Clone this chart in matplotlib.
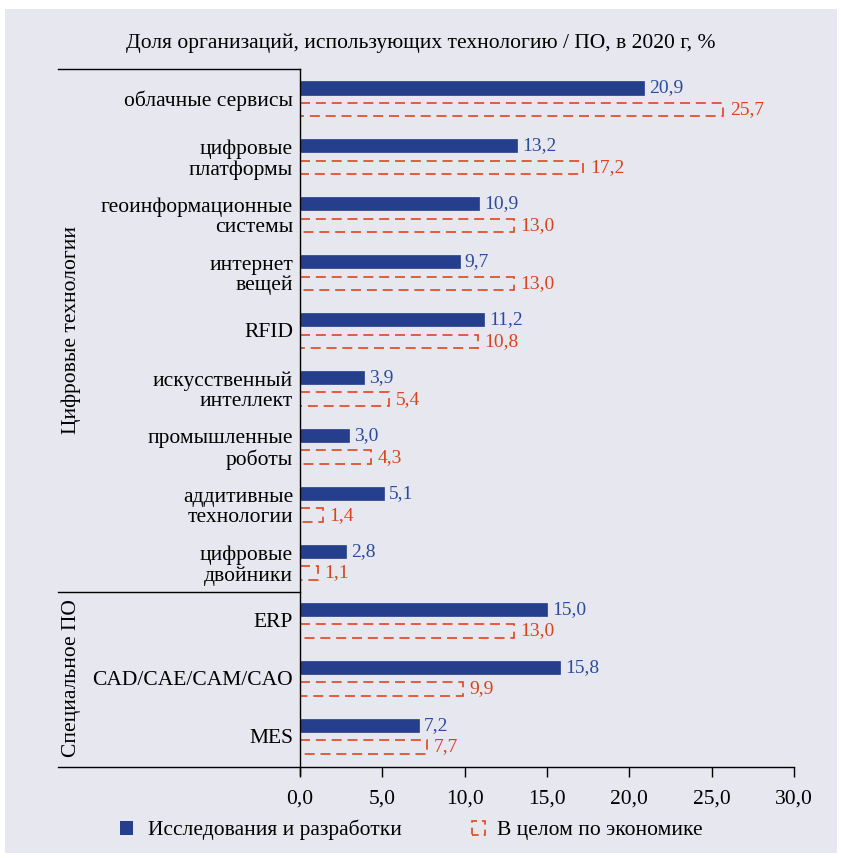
import matplotlib
matplotlib.use("Agg")
import matplotlib.pyplot as plt
from matplotlib.lines import Line2D
from matplotlib.patches import Rectangle
import numpy as np

plt.rcParams["font.family"] = ["Liberation Serif", "DejaVu Serif"]

categories = [
    "облачные сервисы", "цифровые\nплатформы", "геоинформационные\nсистемы",
    "интернет\nвещей", "RFID", "искусственный\nинтеллект",
    "промышленные\nроботы", "аддитивные\nтехнологии", "цифровые\nдвойники",
    "ERP", "CAD/CAE/CAM/CAO", "MES",
]
research = [20.9, 13.2, 10.9, 9.7, 11.2, 3.9, 3.0, 5.1, 2.8, 15.0, 15.8, 7.2]
economy = [25.7, 17.2, 13.0, 13.0, 10.8, 5.4, 4.3, 1.4, 1.1, 13.0, 9.9, 7.7]
groups = [("Цифровые технологии", 0, 8), ("Специальное ПО", 9, 11)]
xticks = [0, 5, 10, 15, 20, 25, 30]

BG = "#e6e7ef"
BLUE = "#263f8c"
BLUE_TXT = "#2d4b9c"
RED = "#e0461e"
RED_TXT = "#d9441c"
FS = 15.5

W, H = 842, 858
fig = plt.figure(figsize=(W / 100, H / 100), dpi=100)
fig.patch.set_facecolor("white")
fig.add_artist(Rectangle((5 / W, 5 / H), 832 / W, 844 / H, transform=fig.transFigure,
                         facecolor=BG, edgecolor="none", zorder=0))

ax = fig.add_axes([300 / W, 1 - 767 / H, 494 / W, 698 / H])
ax.set_facecolor("none")

y = np.arange(len(categories))
bh = 0.23
off = 0.185
ax.barh(y - off, research, height=bh, color=BLUE, edgecolor=BLUE, linewidth=0.5)
ax.barh(y + off, economy, height=bh, fill=False, edgecolor=RED,
        linestyle=(0, (6, 3.5)), linewidth=1.2)

for yi, v in zip(y, research):
    ax.text(v + 0.3, yi - off, f"{v:.1f}".replace(".", ","), va="center", ha="left",
            color=BLUE_TXT, fontsize=14)
for yi, v in zip(y, economy):
    ax.text(v + 0.4, yi + off, f"{v:.1f}".replace(".", ","), va="center", ha="left",
            color=RED_TXT, fontsize=14)

ax.set_xlim(0, 30)
ax.set_ylim(11.53, -0.51)
ax.set_xticks(xticks)
ax.set_xticklabels([f"{t:.1f}".replace(".", ",") for t in xticks], fontsize=FS)
ax.set_yticks(y)
ax.set_yticklabels(categories, fontsize=FS, linespacing=1.08)
ax.tick_params(axis="y", length=0, pad=5)
ax.tick_params(axis="x", direction="out", length=7, width=1, pad=9)
for s in ("top", "right"):
    ax.spines[s].set_visible(False)
ax.spines["left"].set_linewidth(1)
ax.spines["bottom"].set_linewidth(1)
ax.spines["left"].set_bounds(11.53 + 0.13, -0.51)

# horizontal rules on the left label panel
xl = 58 / W
xr = 300 / W
for yy in (69, 592, 767):
    fig.add_artist(Line2D([xl, xr], [1 - yy / H, 1 - yy / H], color="black", lw=1))

for name, a, b in groups:
    yc = (a + b) / 2
    ax.text(-229 / 494 * 30, yc, name, rotation=90, ha="center", va="center",
            fontsize=FS)

fig.text(0.5, 1 - 43 / H, "Доля организаций, использующих технологию / ПО, в 2020 г, %",
         ha="center", va="center", fontsize=FS)

# legend
fig.add_artist(Rectangle((120 / W, 1 - 835 / H), 13 / W, 14 / H, transform=fig.transFigure,
                         facecolor=BLUE, edgecolor="none"))
fig.text(148 / W, 1 - 830 / H, "Исследования и разработки", ha="left", va="center",
         fontsize=FS)
fig.add_artist(Rectangle((472 / W, 1 - 835 / H), 13 / W, 14 / H, transform=fig.transFigure,
                         fill=False, edgecolor=RED, linestyle=(0, (4, 3)), lw=1.2))
fig.text(497 / W, 1 - 830 / H, "В целом по экономике", ha="left", va="center",
         fontsize=FS)

fig.savefig("out.png", dpi=100, facecolor=fig.get_facecolor())
